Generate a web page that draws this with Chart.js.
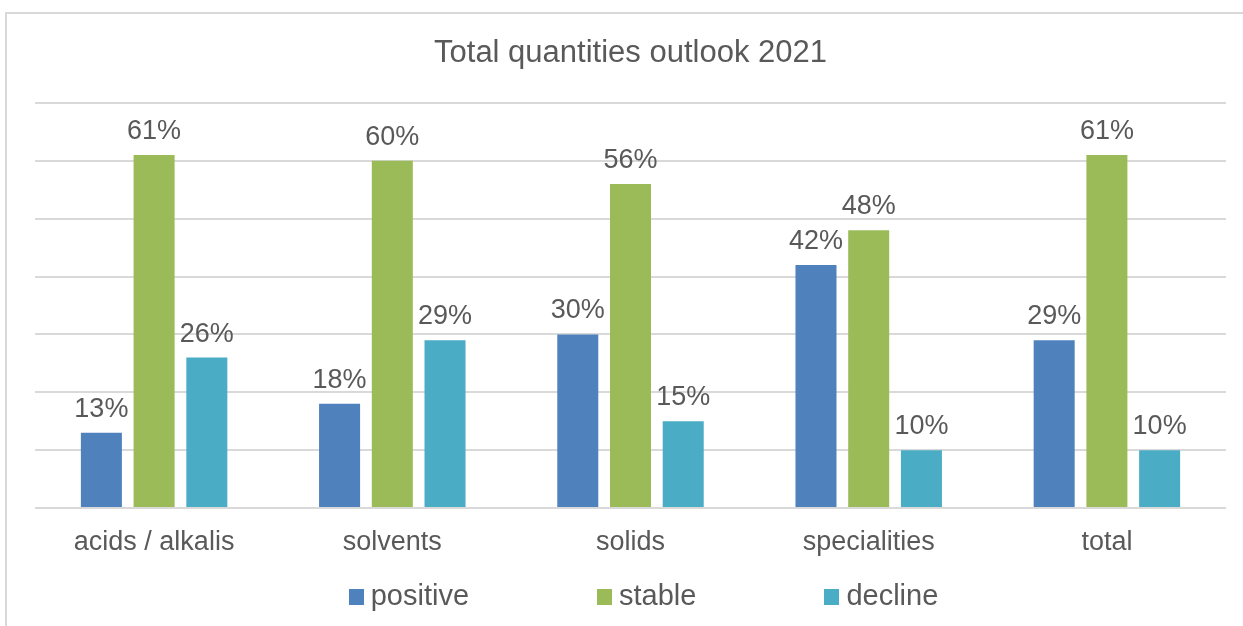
<!DOCTYPE html>
<html>
<head>
<meta charset="utf-8">
<script src="https://cdn.jsdelivr.net/npm/chart.js@4.4.1/dist/chart.umd.min.js"></script>
<style>
  html, body { margin: 0; padding: 0; background: #ffffff; }
  canvas { display: block; }
</style>
</head>
<body>
<canvas id="c" width="1243" height="626"></canvas>
<script>
const categories = ["acids / alkalis", "solvents", "solids", "specialities", "total"];
const positive = [13, 18, 30, 42, 29];
const stable = [61, 60, 56, 48, 61];
const decline = [26, 29, 15, 10, 10];
const seriesNames = ["positive", "stable", "decline"];
const seriesColors = ["#4F81BD", "#9BBB59", "#4BACC6"];
const titleText = "Total quantities outlook 2021";

const FONT = "'Liberation Sans', Arial, Helvetica, sans-serif";
const TEXT = "#595959";
const GRID = "#d9d9d9";

const framePlugin = {
  id: 'frame',
  beforeDraw(chart) {
    const ctx = chart.ctx;
    ctx.save();
    ctx.fillStyle = '#ffffff';
    ctx.fillRect(0, 0, chart.width, chart.height);
    ctx.strokeStyle = GRID;
    ctx.lineWidth = 2;
    ctx.beginPath();
    ctx.moveTo(6, chart.height + 5);
    ctx.lineTo(6, 13);
    ctx.lineTo(chart.width + 5, 13);
    ctx.stroke();
    ctx.restore();
  }
};

const valueLabelPlugin = {
  id: 'valueLabels',
  afterDatasetsDraw(chart) {
    const ctx = chart.ctx;
    ctx.save();
    ctx.font = "27px " + FONT;
    ctx.fillStyle = TEXT;
    ctx.textAlign = 'center';
    ctx.textBaseline = 'alphabetic';
    chart.data.datasets.forEach((ds, di) => {
      const meta = chart.getDatasetMeta(di);
      meta.data.forEach((bar, i) => {
        ctx.fillText(ds.data[i] + '%', bar.x, bar.y - 16);
      });
    });
    ctx.restore();
  }
};

const customLegendPlugin = {
  id: 'customLegend',
  afterDraw(chart) {
    const ctx = chart.ctx;
    const box = 15, boxGap = 7, itemGap = 128, centerX = 643.5, centerY = 596;
    ctx.save();
    ctx.font = "29px " + FONT;
    const widths = chart.data.datasets.map(ds => ctx.measureText(ds.label).width);
    let total = 0;
    widths.forEach((w, i) => { total += box + boxGap + w + (i < widths.length - 1 ? itemGap : 0); });
    let x = centerX - total / 2;
    ctx.textBaseline = 'middle';
    ctx.textAlign = 'left';
    chart.data.datasets.forEach((ds, i) => {
      ctx.fillStyle = ds.backgroundColor;
      ctx.fillRect(Math.round(x), Math.round(centerY - box / 2), box, box + 1);
      ctx.fillStyle = TEXT;
      ctx.fillText(ds.label, x + box + boxGap, centerY + 1);
      x += box + boxGap + widths[i] + itemGap;
    });
    ctx.restore();
  }
};

const seriesData = [positive, stable, decline];

new Chart(document.getElementById('c'), {
  type: 'bar',
  data: {
    labels: categories,
    datasets: seriesNames.map((name, i) => ({
      label: name,
      data: seriesData[i],
      backgroundColor: seriesColors[i],
      borderWidth: 0,
      categoryPercentage: 0.664,
      barPercentage: 0.778
    }))
  },
  options: {
    responsive: false,
    animation: false,
    devicePixelRatio: 1,
    layout: { padding: { left: 35, right: 17, top: 0, bottom: 49.6 } },
    plugins: {
      legend: { display: false },
      tooltip: { enabled: false },
      title: {
        display: true,
        text: titleText,
        color: TEXT,
        font: { family: FONT, size: 31, weight: 'normal', lineHeight: 1.2 },
        padding: { top: 34.5, bottom: 31.3 }
      }
    },
    scales: {
      x: {
        grid: { display: false, drawTicks: false },
        border: { display: false },
        ticks: {
          color: TEXT,
          font: { family: FONT, size: 27, lineHeight: 1.2 },
          padding: 18,
          maxRotation: 0,
          autoSkip: false
        }
      },
      y: {
        display: true,
        min: 0,
        max: 70,
        ticks: { display: false, stepSize: 10 },
        grid: { color: GRID, lineWidth: 2, drawTicks: false },
        border: { display: false }
      }
    }
  },
  plugins: [framePlugin, valueLabelPlugin, customLegendPlugin]
});
</script>
</body>
</html>
